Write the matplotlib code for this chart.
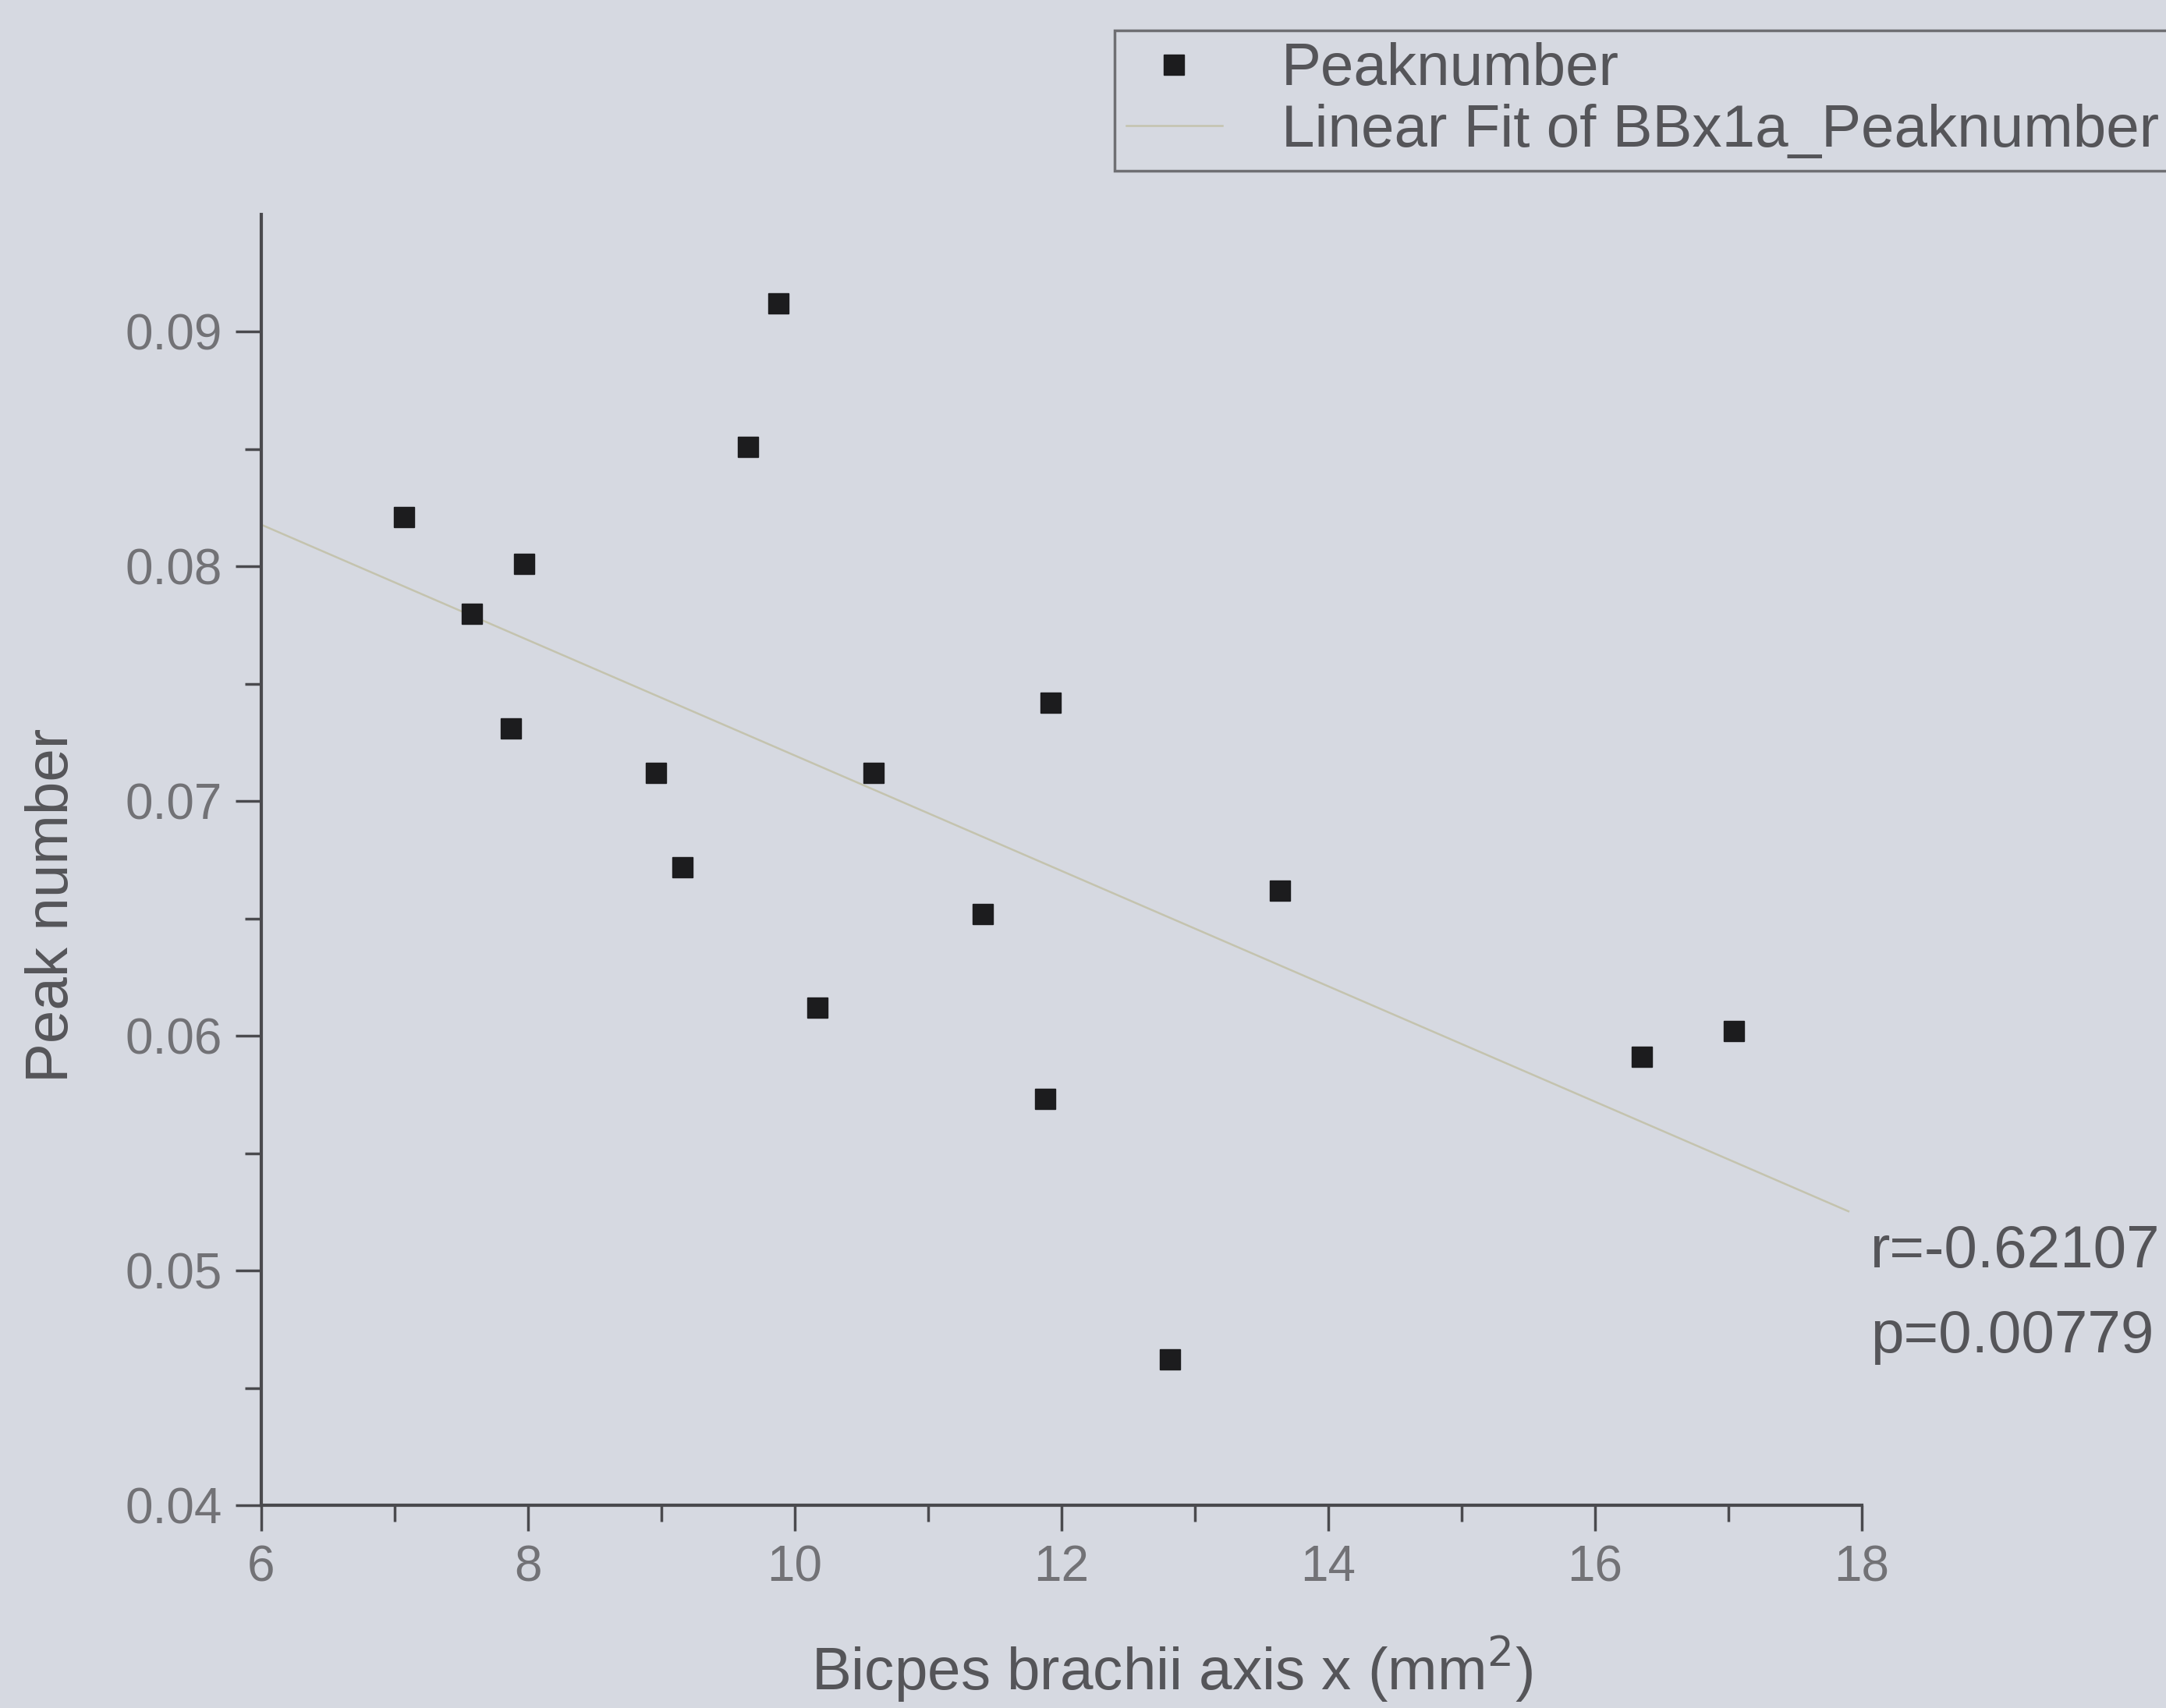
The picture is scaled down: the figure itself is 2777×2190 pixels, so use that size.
import numpy as np
import matplotlib
matplotlib.use("Agg")
import matplotlib.pyplot as plt

# data
bicep_x = [7.07, 7.58, 7.87, 7.97, 8.96, 9.16, 9.65, 9.88, 10.17, 10.59,
           11.41, 11.88, 11.92, 12.81, 13.64, 16.35, 17.04]
peak_num = [0.0821, 0.0780, 0.0731, 0.0801, 0.0712, 0.0672, 0.0851, 0.0912, 0.0612, 0.0712,
            0.0652, 0.0573, 0.0742, 0.0462, 0.0662, 0.0591, 0.0602]
x_ticks = [6, 8, 10, 12, 14, 16, 18]
y_ticks = [0.04, 0.05, 0.06, 0.07, 0.08, 0.09]
stats_text = ["r=-0.62107", "p=0.00779"]

BG = '#d6d9e1'
AXC = '#4a4a4e'
TXT = '#555559'

plt.rcParams['font.family'] = ['Liberation Sans', 'DejaVu Sans']

fig = plt.figure(figsize=(27.77, 21.90), dpi=100, facecolor=BG)
W, H = 2777, 2190
# axes box in pixels: left 335, right 2387, top 275, bottom 1930
ax = fig.add_axes([335 / W, 1 - 1930 / H, (2387 - 335) / W, (1930 - 275) / H])
ax.set_facecolor(BG)

# linear fit
slope, icpt = np.polyfit(bicep_x, peak_num, 1)
xf = np.array([6.0, 17.9])
ax.plot(xf, slope * xf + icpt, color='#c4c3ae', lw=1.8, label='Linear Fit of BBx1a_Peaknumber', zorder=2)
ax.plot(bicep_x, peak_num, 's', color='#1c1c1e', markersize=19, ls='none', label='Peaknumber', zorder=3)

ax.set_xlim(6, 18)
ax.set_ylim(0.04, 0.095)
ax.set_xticks(x_ticks)
ax.set_yticks(y_ticks)
ax.set_xticks(np.arange(7, 18, 2), minor=True)
ax.set_yticks(np.arange(0.045, 0.095, 0.01), minor=True)
ax.set_yticklabels([f"{v:.2f}" for v in y_ticks])

for s in ['top', 'right']:
    ax.spines[s].set_visible(False)
for s in ['left', 'bottom']:
    ax.spines[s].set_color(AXC)
    ax.spines[s].set_linewidth(3)

ax.tick_params(which='major', direction='out', length=24, width=2.5, color=AXC,
               labelsize=46, labelcolor='#727276', pad=12)
ax.tick_params(which='minor', direction='out', length=15, width=2.5, color=AXC)

ax.set_xlabel('Bicpes brachii axis x (mm$^{2}$)', fontsize=55, color=TXT)
ax.xaxis.set_label_coords(0.569, -0.10)
ax.set_ylabel('Peak number', fontsize=55, color=TXT)
ax.yaxis.set_label_coords(-0.113, 0.465)

# stats annotation
fig.text(2398 / W, 1 - 1605 / H, stats_text[0], fontsize=55, color=TXT, ha='left', va='center')
fig.text(2398 / W, 1 - 1715 / H, stats_text[1], fontsize=55, color=TXT, ha='left', va='center')

handles, labels = ax.get_legend_handles_labels()
leg = fig.legend(handles[::-1], labels[::-1], loc='upper left',
                 bbox_to_anchor=(1429 / W, 1 - 39 / H), fontsize=55, frameon=True,
                 fancybox=False, handlelength=1.6, handletextpad=1.0, borderpad=0.2,
                 labelspacing=0.1, labelcolor=TXT, borderaxespad=0)
leg.get_frame().set_facecolor(BG)
leg.get_frame().set_edgecolor('#555558')
leg.get_frame().set_linewidth(2.5)

fig.savefig('out.png', dpi=100, facecolor=BG)
